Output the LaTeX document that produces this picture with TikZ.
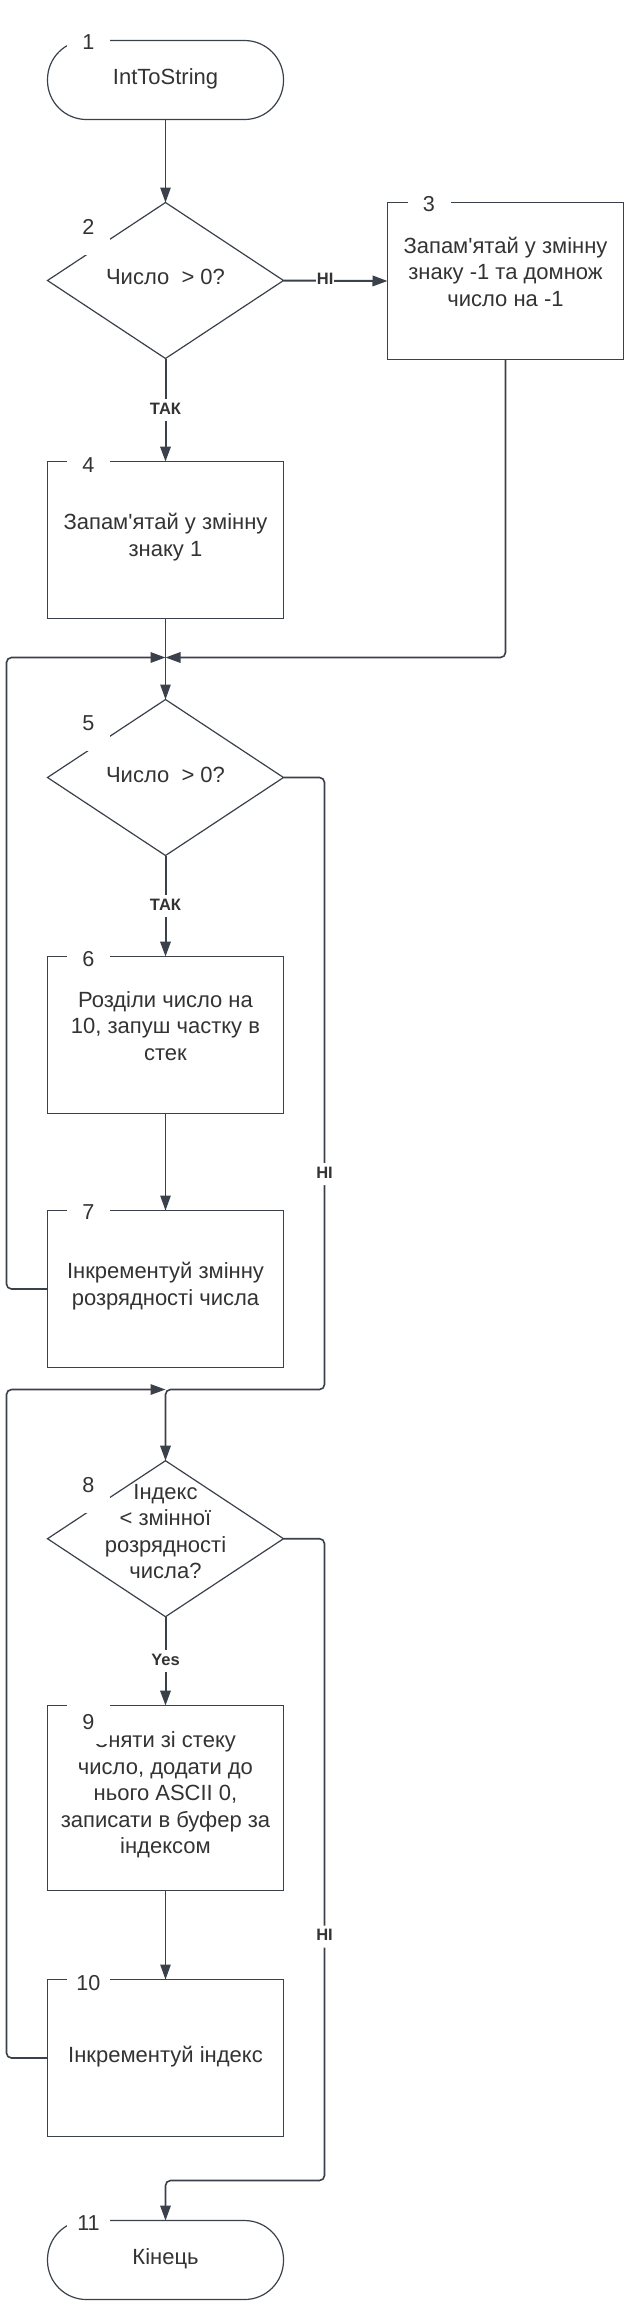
\documentclass[tikz,border=0pt]{standalone}
\usepackage{fontspec}
\setmainfont{Liberation Sans}
\usetikzlibrary{shapes.geometric, arrows.meta}
\definecolor{ln}{HTML}{3A414A}
\definecolor{tx}{HTML}{333333}
\newcommand{\bstrut}{\rule[-5.8pt]{0pt}{26.5pt}}
\begin{document}
\begin{tikzpicture}[x=1pt,y=-1pt,
  shp/.style={draw=ln, line width=1.2pt, fill=white, inner sep=0pt, outer sep=0pt, minimum width=236pt},
  boxshape/.style={shp, rectangle},
  term/.style={shp, rectangle, rounded corners=39pt, minimum height=79pt},
  dia/.style={shp, diamond, minimum height=156pt},
  txt/.style={text=tx, font=\fontsize{22}{26.5}\selectfont, align=center, inner sep=0pt, yshift=2.5pt, execute at begin node=\bstrut, execute at end node=\bstrut},
  num/.style={fill=white, text=tx, font=\fontsize{21.6}{26.5}\selectfont, inner sep=0pt, minimum width=43pt, minimum height=44pt},
  dnum/.style={num, minimum height=56pt},
  lbl/.style={fill=white, text=tx, font=\fontsize{16.5}{18}\selectfont\bfseries, inner xsep=0.5pt, inner ysep=2pt, text height=13pt, text depth=5pt},
  tip/.style={-{Triangle[length=15pt,width=10.5pt]}},
  con/.style={draw=ln, line width=1.2pt, tip},
  conb/.style={draw=ln, line width=2pt, tip},
  conm/.style={draw=ln, line width=1.6pt, tip, rounded corners=5pt}
]
\fill[white] (0,0) rectangle (642,2319);
\useasboundingbox (0,0) rectangle (642,2319);

% shapes
\node[term] (t1) at (165.5,80) {};
\node[dia] (d2) at (165.5,280.5) {};
\node[boxshape, minimum height=157pt] (b3) at (505.5,281) {};
\node[boxshape, minimum height=157pt] (b4) at (165.5,540) {};
\node[dia] (d5) at (165.5,777.5) {};
\node[boxshape, minimum height=157pt] (b6) at (165.5,1035) {};
\node[boxshape, minimum height=157pt] (b7) at (165.5,1289) {};
\node[dia] (d8) at (165.5,1538.7) {};
\node[boxshape, minimum height=185pt] (b9) at (165.5,1798) {};
\node[boxshape, minimum height=157pt] (b10) at (165.5,2058) {};
\node[term] (t11) at (165.5,2260) {};

% texts
\node[txt] (t1t) at (t1) {IntToString};
\node[txt, yshift=0.5pt] (d2t) at (d2) {Число\ \ > 0?};
\node[txt, yshift=4pt] (b3t) at (b3) {Запам\textquotesingle ятай у змінну\\знаку -1 та домнож\\число на -1};
\node[txt] (b4t) at (b4) {Запам\textquotesingle ятай у змінну\\знаку 1};
\node[txt] (d5t) at (d5) {Число\ \ > 0?};
\node[txt, yshift=4pt] (b6t) at (b6) {Розділи число на\\10, запуш частку в\\стек};
\node[txt] (b7t) at (b7) {Інкрементуй змінну\\розрядності числа};
\node[txt, yshift=2pt] (d8t) at (d8) {Індекс\\< змінної\\розрядності\\числа?};
\node[txt] (b9t) at (b9) {Зняти зі стеку\\число, додати до\\нього ASCII 0,\\записати в буфер за\\індексом};
\node[txt] (b10t) at (b10) {Інкрементуй індекс};
\node[txt] (t11t) at (t11) {Кінець};

% number labels
\node[num] (n1) at (88.5,42.5) {1};
\node[dnum] (n2) at (88.5,227) {2};
\node[num] (n3) at (429,204) {3};
\node[num] (n4) at (88.5,465) {4};
\node[dnum] (n5) at (88.5,723.3) {5};
\node[num] (n6) at (88.5,959) {6};
\node[num] (n7) at (88.5,1212.5) {7};
\node[dnum] (n8) at (88.5,1485) {8};
\node[num] (n9) at (88.5,1722) {9};
\node[num] (n10) at (88.5,1982.7) {10};
\node[num] (n11) at (88.5,2222.7) {11};

% helper coordinates
\coordinate (j1) at (165.5,657.5);
\coordinate (xl1) at (6.5,657.5);
\coordinate (r1) at (324.5,1389.5);
\coordinate (j2) at (165.5,1389.5);
\coordinate (xl2) at (6.5,1389.5);
\coordinate (r2) at (324.5,2180.5);
\coordinate (j3) at (165.5,2180.5);

% connectors
\draw[con] (t1.south) -- (d2.north);
\draw[conb] (d2.south) -- node[lbl]{ТАК} (b4.north);
\draw[conb] (d2.east) -- node[lbl, pos=0.4]{НІ} (b3.west);
\draw[conm] (b3.south) |- (j1);
\draw[con] (b4.south) -- (d5.north);
\draw[conb] (d5.south) -- node[lbl]{ТАК} (b6.north);
\draw[con] (b6.south) -- (b7.north);
\draw[conm] (b7.west) -| (xl1) -- (j1);
\draw[conm] (d5.east) -| node[lbl, pos=0.824]{НІ} (r1) -- (j2) -- (d8.north);
\draw[conm] (b10.west) -| (xl2) -- (j2);
\draw[conb] (d8.south) -- node[lbl]{Yes} (b9.north);
\draw[con] (b9.south) -- (b10.north);
\draw[conm] (d8.east) -| node[lbl, pos=0.81]{НІ} (r2) -- (j3) -- (t11.north);
\end{tikzpicture}
\end{document}
